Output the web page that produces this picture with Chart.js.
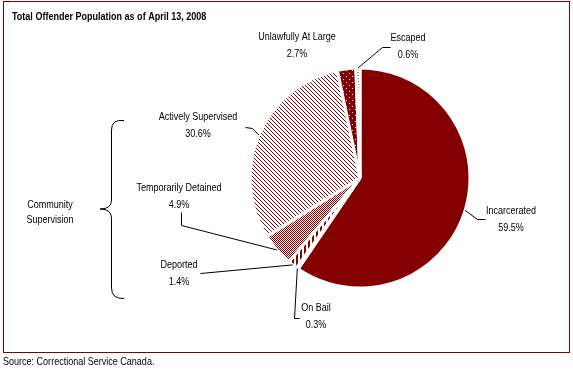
<!DOCTYPE html>
<html>
<head>
<meta charset="utf-8">
<script src="https://cdn.jsdelivr.net/npm/chart.js@4"></script>
<style>
body { margin: 0; background: #fff; }
</style>
</head>
<body>
<canvas id="offenderChart" width="573" height="370"></canvas>
<script>
const categories = ['Incarcerated', 'On Bail', 'Deported', 'Temporarily Detained', 'Actively Supervised', 'Unlawfully At Large', 'Escaped'];
const shares = [59.5, 0.3, 1.4, 4.9, 30.6, 2.7, 0.6];
const pctLabels = ['59.5%', '0.3%', '1.4%', '4.9%', '30.6%', '2.7%', '0.6%'];
const groupLabel = ['Community', 'Supervision'];
const titleText = 'Total Offender Population as of April 13, 2008';
const sourceText = 'Source: Correctional Service Canada.';

const red = '#840000';
const font = '11px Arial, "Liberation Sans", sans-serif';
const boldFont = 'bold 11px Arial, "Liberation Sans", sans-serif';
const squeeze = 0.82; // the original uses a narrow face

// small repeating tiles for the hatched slices
const makePattern = (w, h, bg, fg, pixels) => {
    const c = document.createElement('canvas');
    c.width = w;
    c.height = h;
    const g = c.getContext('2d');
    g.fillStyle = bg;
    g.fillRect(0, 0, w, h);
    g.fillStyle = fg;
    pixels.forEach(p => g.fillRect(p[0], p[1], 1, 1));
    return g.createPattern(c, 'repeat');
};

const fills = [
    red,
    makePattern(3, 3, '#fff', red, [[0, 0], [2, 2]]),
    makePattern(4, 1, '#fff', red, [[0, 0], [1, 0]]),
    makePattern(2, 2, '#fff', red, [[0, 0], [1, 1]]),
    makePattern(4, 4, '#fff', red, [[0, 0], [1, 1], [2, 2], [3, 3]]),
    makePattern(6, 6, red, '#fff', [[1, 1], [4, 4]]),
    makePattern(1, 3, '#fff', red, [[0, 0]])
];

// where each label sits and the elbow of its leader line
const labelPlacement = [
    { x: 511, y: 211, path: [[485, 219], [477, 219]] },
    { x: 316, y: 308, path: [[299, 318], [294, 318]] },
    { x: 179, y: 265, path: [[200, 273]] },
    { x: 179, y: 188, path: [[181, 212], [181, 225]] },
    { x: 198, y: 117, path: [[245, 127], [252, 128]] },
    { x: 297, y: 37, path: [] },
    { x: 408, y: 38, path: [[390, 47], [382, 47]] }
];

const drawText = (ctx, text, x, y, align) => {
    ctx.save();
    ctx.translate(x, y);
    ctx.scale(squeeze, 1);
    ctx.textAlign = align;
    ctx.fillText(text, 0, 0);
    ctx.restore();
};

const labelPlugin = {
    id: 'pieLabels',
    afterDraw(chart) {
        const ctx = chart.ctx;
        const arcs = chart.getDatasetMeta(0).data;
        ctx.save();

        // frame
        ctx.strokeStyle = '#800000';
        ctx.lineWidth = 1;
        ctx.strokeRect(3.5, 1.5, 566, 351);

        ctx.fillStyle = '#000';
        ctx.textBaseline = 'middle';
        ctx.font = boldFont;
        drawText(ctx, titleText, 12, 17, 'left');
        ctx.font = font;
        drawText(ctx, sourceText, 3, 362, 'left');

        // slice labels and leaders
        ctx.strokeStyle = '#000';
        arcs.forEach((arc, i) => {
            const p = arc.getProps(['x', 'y', 'startAngle', 'endAngle', 'outerRadius'], true);
            const mid = (p.startAngle + p.endAngle) / 2;
            const ax = p.x + Math.cos(mid) * p.outerRadius;
            const ay = p.y + Math.sin(mid) * p.outerRadius;
            const lp = labelPlacement[i];
            drawText(ctx, categories[i], lp.x, lp.y, 'center');
            drawText(ctx, pctLabels[i], lp.x, lp.y + 17, 'center');
            if (lp.path.length) {
                ctx.beginPath();
                ctx.moveTo(lp.path[0][0] + 0.5, lp.path[0][1] + 0.5);
                lp.path.slice(1).forEach(pt => ctx.lineTo(pt[0] + 0.5, pt[1] + 0.5));
                ctx.lineTo(ax, ay);
                ctx.stroke();
            }
        });

        // community supervision brace
        drawText(ctx, groupLabel[0], 50, 205, 'center');
        drawText(ctx, groupLabel[1], 50, 220, 'center');
        ctx.beginPath();
        ctx.moveTo(124, 120.5);
        ctx.quadraticCurveTo(111.5, 119, 111.5, 130);
        ctx.lineTo(111.5, 200);
        ctx.quadraticCurveTo(111.5, 209, 100, 209);
        ctx.quadraticCurveTo(111.5, 209, 111.5, 218);
        ctx.lineTo(111.5, 288);
        ctx.quadraticCurveTo(111.5, 299, 124, 298.5);
        ctx.stroke();

        ctx.restore();
    }
};

const ctx = document.getElementById('offenderChart').getContext('2d');
new Chart(ctx, {
    type: 'pie',
    data: {
        labels: categories,
        datasets: [{
            data: shares,
            backgroundColor: fills,
            borderColor: '#fff',
            borderWidth: 3,
            radius: 110
        }]
    },
    options: {
        responsive: false,
        animation: false,
        layout: {
            padding: { left: 250, right: 103, top: 68, bottom: 82 }
        },
        plugins: {
            legend: { display: false },
            tooltip: { enabled: false },
            title: { display: false }
        }
    },
    plugins: [labelPlugin]
});
</script>
</body>
</html>
